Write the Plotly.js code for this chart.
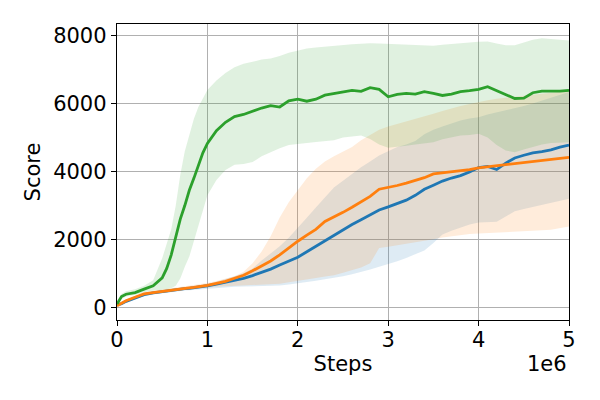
<!DOCTYPE html>
<html>
<head>
<meta charset="utf-8">
<script src="https://cdn.plot.ly/plotly-3.0.1.min.js"></script>
<style>
  html, body { margin: 0; padding: 0; background: #fff; }
  #plot { width: 600px; height: 400px; }
</style>
</head>
<body>
<div id="plot"></div>
<script>
// steps, in units of 1e6
const steps = [0, 0.05, 0.1, 0.2, 0.3, 0.4, 0.5, 0.55, 0.6, 0.65, 0.7, 0.75, 0.8, 0.85, 0.9, 0.95,
  1.0, 1.1, 1.2, 1.3, 1.4, 1.5, 1.6, 1.7, 1.8, 1.9, 2.0, 2.1, 2.2, 2.3, 2.4, 2.5, 2.6, 2.7, 2.8, 2.9,
  3.0, 3.1, 3.2, 3.3, 3.4, 3.5, 3.6, 3.7, 3.8, 3.9, 4.0, 4.1, 4.2, 4.3, 4.4, 4.5, 4.6, 4.7, 4.8, 4.9, 5.0];

const blueMean = [80, 110, 180, 280, 380, 430, 470, 490, 510, 525, 540, 555, 565, 580, 600, 615,
  640, 690, 740, 800, 860, 940, 1030, 1130, 1250, 1370, 1480, 1640, 1800, 1970, 2140, 2300, 2440, 2580, 2720, 2870,
  2960, 3060, 3160, 3300, 3480, 3600, 3720, 3810, 3880, 3990, 4120, 4150, 4060, 4250, 4400, 4480, 4550, 4590, 4640, 4720, 4780];
const blueUpper = [130, 160, 230, 330, 430, 480, 520, 540, 560, 575, 590, 605, 620, 635, 650, 670,
  690, 760, 830, 920, 1010, 1150, 1380, 1580, 1800, 2050, 2330, 2640, 2940, 3240, 3530, 3730, 3930, 4130, 4300, 4470,
  4600, 4720, 4800, 4900, 5100, 5230, 5330, 5420, 5500, 5560, 5600, 5680, 5740, 5800, 5850, 5930, 6000, 6080, 6170, 6260, 6340];
const blueLower = [30, 60, 130, 230, 330, 380, 420, 440, 455, 470, 485, 500, 510, 520, 535, 550,
  570, 590, 600, 610, 615, 620, 625, 630, 650, 680, 710, 750, 790, 830, 870, 920, 980, 1040, 1120, 1200,
  1270, 1360, 1460, 1560, 1680, 1900, 2150, 2260, 2360, 2440, 2500, 2510, 2520, 2680, 2830, 2900, 2960, 3020, 3080, 3140, 3200];

const orangeMean = [50, 120, 200, 300, 400, 440, 480, 500, 520, 540, 555, 570, 580, 590, 610, 625,
  650, 710, 770, 860, 950, 1080, 1220, 1370, 1550, 1760, 1950, 2130, 2300, 2530, 2660, 2800, 2950, 3100, 3270, 3480,
  3530, 3590, 3660, 3740, 3820, 3930, 3960, 3990, 4020, 4060, 4110, 4140, 4160, 4200, 4240, 4270, 4290, 4320, 4350, 4390, 4420];
const orangeUpper = [100, 170, 250, 350, 450, 490, 530, 550, 570, 590, 610, 625, 640, 655, 675, 695,
  720, 780, 850, 920, 1050, 1300, 1650, 2100, 2650, 3100, 3450, 3800, 4080, 4300, 4450, 4580, 4720, 4920, 5080, 5230,
  5330, 5400, 5480, 5540, 5620, 5700, 5780, 5860, 5930, 5990, 6050, 6100, 6140, 6170, 6200, 6230, 6260, 6290, 6320, 6350, 6380];
const orangeLower = [0, 70, 150, 250, 350, 400, 440, 460, 475, 490, 505, 520, 530, 545, 560, 575,
  590, 610, 625, 635, 645, 650, 660, 670, 700, 740, 790, 830, 870, 910, 950, 1020, 1100, 1180, 1300, 1750,
  1790, 1830, 1880, 1920, 1970, 2010, 2060, 2100, 2130, 2160, 2180, 2190, 2200, 2210, 2220, 2240, 2260, 2270, 2290, 2330, 2380];

const greenMean = [100, 320, 390, 440, 540, 640, 870, 1150, 1550, 2050, 2600, 3000, 3450, 3800, 4200, 4550,
  4830, 5200, 5450, 5620, 5680, 5780, 5870, 5940, 5900, 6080, 6130, 6070, 6130, 6250, 6300, 6350, 6390, 6360, 6470, 6420,
  6200, 6270, 6300, 6280, 6350, 6300, 6240, 6280, 6350, 6380, 6420, 6500, 6380, 6260, 6150, 6160, 6320, 6370, 6360, 6370, 6390];
const greenUpper = [200, 400, 480, 540, 640, 800, 1450, 1900, 2300, 3000, 3900, 4600, 5100, 5550, 5900, 6150,
  6400, 6680, 6900, 7070, 7170, 7230, 7300, 7330, 7400, 7500, 7560, 7620, 7650, 7680, 7700, 7730, 7750, 7760, 7780, 7770,
  7760, 7740, 7740, 7730, 7720, 7700, 7730, 7760, 7780, 7800, 7820, 7830, 7770, 7720, 7720, 7800, 7880, 7920, 7900, 7880, 7860];
const greenLower = [50, 250, 320, 370, 450, 500, 520, 540, 570, 640, 850, 1200, 1500, 1950, 2400, 2850,
  3300, 3750, 4050, 4200, 4220, 4280, 4450, 4570, 4690, 4780, 4820, 4840, 4870, 4900, 4920, 5000, 5020, 5060, 4960, 4800,
  4700, 4720, 4760, 4800, 4830, 4860, 4950, 5000, 5060, 5080, 5110, 5000, 4780, 4620, 4570, 4650, 4720, 4800, 4840, 4860, 4860];

const xTicks = [0, 1, 2, 3, 4, 5];
const yTicks = [0, 2000, 4000, 6000, 8000];

const xs = steps.map(s => s * 1e6);

const series = [
  {mean: blueMean, upper: blueUpper, lower: blueLower, color: '31,119,180'},
  {mean: orangeMean, upper: orangeUpper, lower: orangeLower, color: '255,127,14'},
  {mean: greenMean, upper: greenUpper, lower: greenLower, color: '44,160,44'},
];

const traces = [];
series.forEach(s => {
  traces.push({x: xs, y: s.lower, mode: 'lines', line: {width: 0}, hoverinfo: 'skip'});
  traces.push({x: xs, y: s.upper, mode: 'lines', line: {width: 0}, fill: 'tonexty',
    fillcolor: 'rgba(' + s.color + ',0.15)', hoverinfo: 'skip'});
});
series.forEach(s => {
  traces.push({x: xs, y: s.mean, mode: 'lines', line: {color: 'rgb(' + s.color + ')', width: 2.8}});
});

const font = {family: 'DejaVu Sans', size: 21, color: '#000'};

const layout = {
  width: 600,
  height: 400,
  showlegend: false,
  paper_bgcolor: '#fff',
  plot_bgcolor: '#fff',
  font: font,
  margin: {l: 117, r: 31, t: 24, b: 80},
  xaxis: {
    range: [0, 5e6],
    tickvals: xTicks.map(v => v * 1e6),
    ticktext: xTicks.map(String),
    showgrid: true,
    gridcolor: '#b0b0b0',
    gridwidth: 1,
    zeroline: false,
    showline: true,
    linecolor: '#000',
    linewidth: 1.2,
    mirror: true,
    ticks: 'outside',
    ticklen: 5,
    tickcolor: '#000',
    tickfont: font,
    ticklabelstandoff: -4,
    title: {text: 'Steps', font: font, standoff: 4},
  },
  yaxis: {
    range: [-368, 8343],
    tickvals: yTicks,
    ticktext: yTicks.map(String),
    showgrid: true,
    gridcolor: '#b0b0b0',
    gridwidth: 1,
    zeroline: false,
    showline: true,
    linecolor: '#000',
    linewidth: 1.2,
    mirror: true,
    ticks: 'outside',
    ticklen: 5,
    tickcolor: '#000',
    tickfont: font,
    title: {text: 'Score', font: font, standoff: 6},
  },
  annotations: [{
    text: '1e6',
    xref: 'paper', yref: 'paper',
    x: 1, y: -0.15,
    xanchor: 'right', yanchor: 'middle',
    showarrow: false,
    font: font,
  }],
};

Plotly.newPlot('plot', traces, layout, {displayModeBar: false, staticPlot: true});
</script>
</body>
</html>
